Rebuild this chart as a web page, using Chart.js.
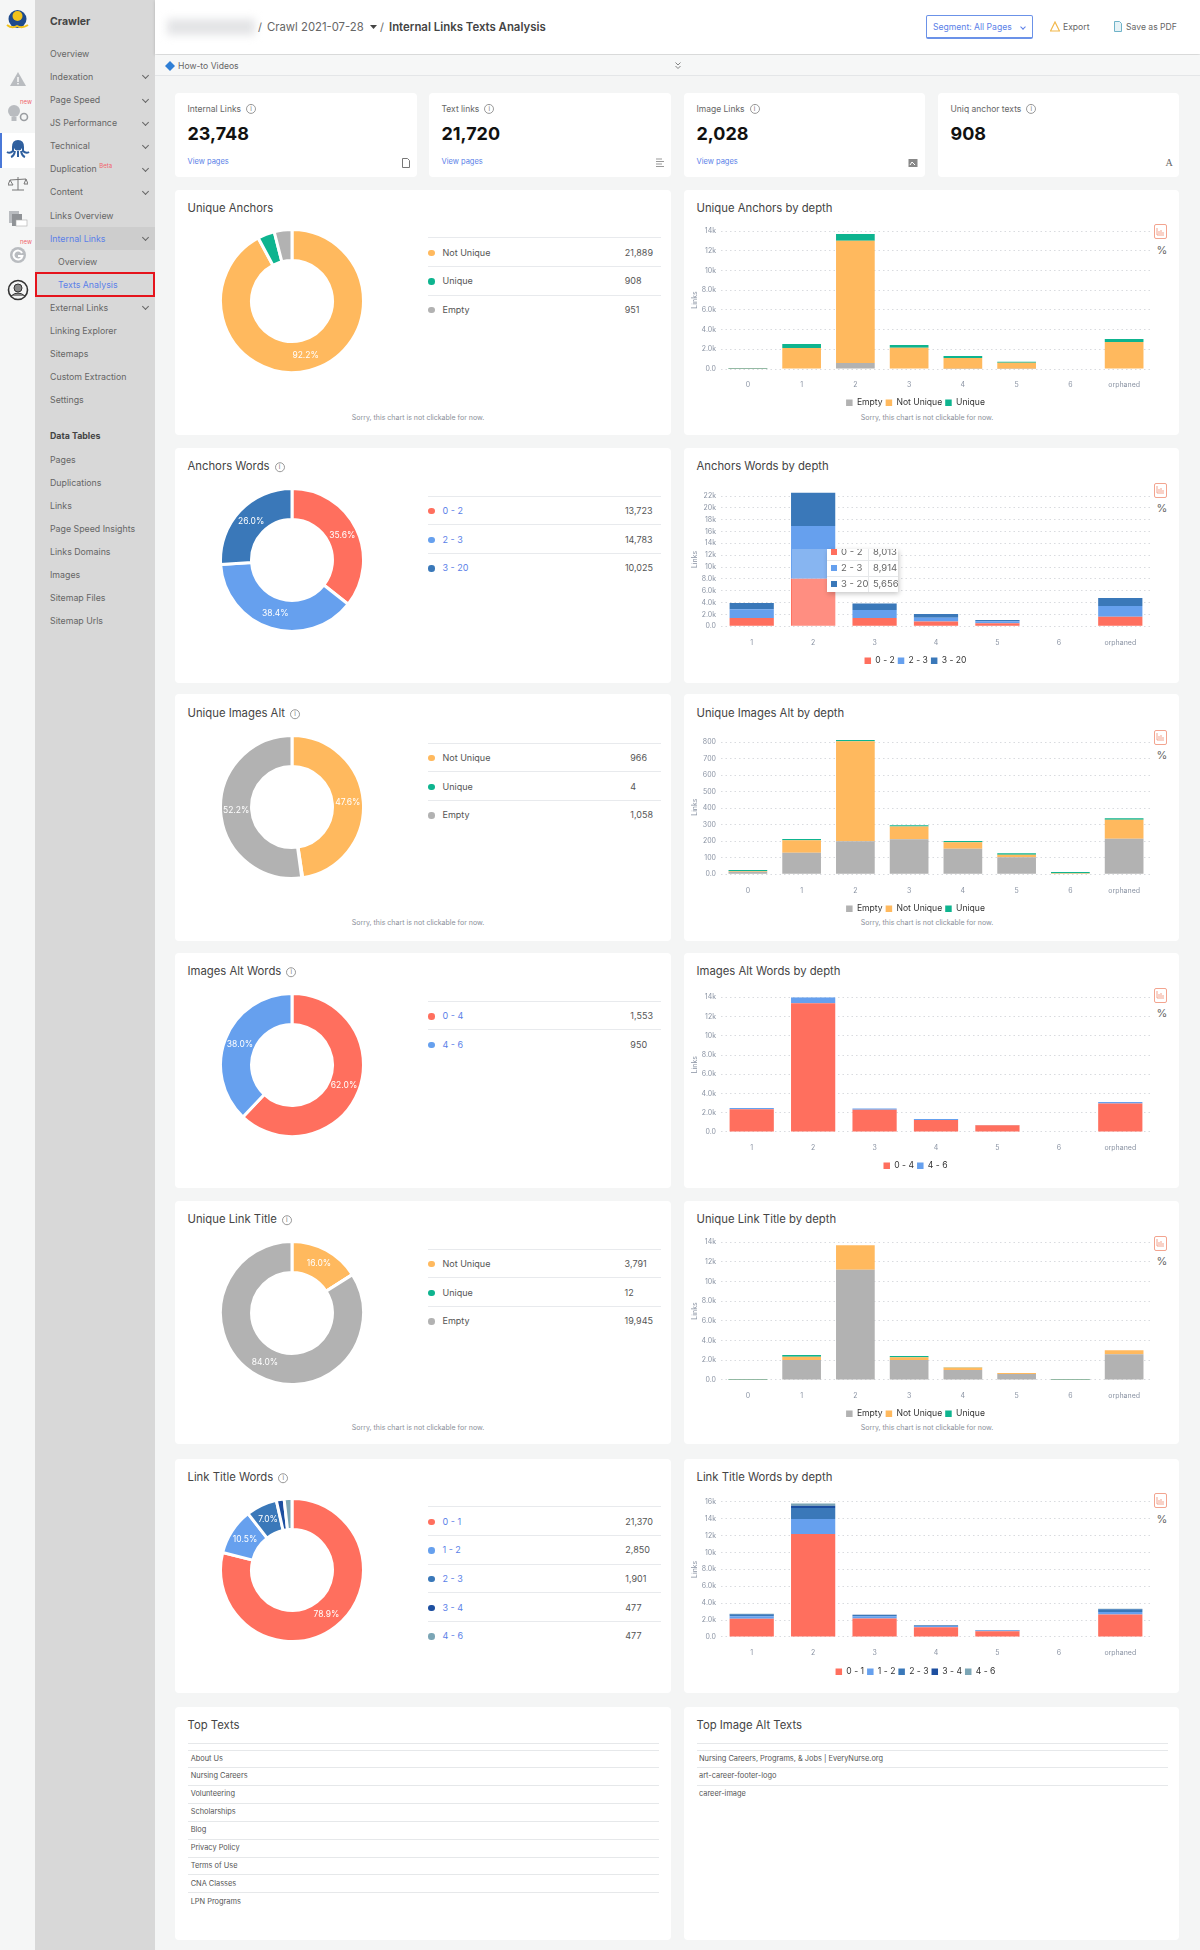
<!DOCTYPE html>
<html lang="en">
<head>
<meta charset="UTF-8">
<title>Internal Links Texts Analysis</title>
<script src="https://cdn.jsdelivr.net/npm/chart.js@4"></script>
<style>
    html, body { margin: 0; padding: 0; }
    body { width: 1200px; height: 1950px; position: relative; overflow: hidden; background: #f4f5f5; font-family: Inter, sans-serif; color: #555; }
    .box { position: absolute; box-sizing: border-box; }
    .card { background: #fff; border-radius: 4px; }
    .t { position: absolute; white-space: nowrap; transform: translateY(-50%); line-height: 1.2; }
    .nav { font-size: 8.8px; color: #666; }
    .blue { color: #5b7fe8; }
    .title { font-size: 11.3px; color: #444; }
    .info { display: inline-block; width: 8px; height: 8px; border: 1px solid #999; border-radius: 50%; font-size: 6.5px; line-height: 8px; text-align: center; color: #777; margin-left: 5px; vertical-align: 1px; }
    .sorry { font-size: 7px; color: #8a8f99; transform: translate(-50%, -50%); }
    .chev { position: absolute; width: 4px; height: 4px; border-right: 1px solid #666; border-bottom: 1px solid #666; transform: rotate(45deg); }
    canvas { position: absolute; }
    table.lg { position: absolute; border-collapse: collapse; font-size: 9px; color: #555; }
    table.lg td { height: 27.7px; border-top: 1px solid #e8eaed; padding: 0; white-space: nowrap; }
    table.lg .dot { display: inline-block; width: 6.5px; height: 6.5px; border-radius: 50%; margin: 0 8px 0 0; vertical-align: -0.5px; }
    table.lg td.v { width: 1px; padding-right: 8px; }
    table.lg td.n { padding-left: 0; }
    .svg { position: absolute; }
    .svg svg { display: block; }
</style>
</head>
<body>
<script>
    // chart data
    const depths8 = ['0', '1', '2', '3', '4', '5', '6', 'orphaned'];
    const depths7 = ['1', '2', '3', '4', '5', '6', 'orphaned'];
    const uniqueKinds = ['Empty', 'Not Unique', 'Unique'];
    const donutKinds = ['Not Unique', 'Unique', 'Empty'];

    const anchorsDonut = [21889, 908, 951];
    const anchorsEmpty = [5, 50, 610, 50, 30, 20, 0, 60];
    const anchorsNotUnique = [30, 2080, 12410, 2110, 1090, 620, 0, 2680];
    const anchorsUnique = [60, 410, 680, 270, 200, 100, 0, 300];

    const wordsKinds = ['0 - 2', '2 - 3', '3 - 20'];
    const wordsDonut = [13723, 14783, 10025];
    const words0to2 = [1410, 8013, 1410, 790, 500, 0, 1630];
    const words2to3 = [1460, 8914, 1350, 670, 350, 0, 1800];
    const words3to20 = [1070, 5656, 1070, 620, 220, 0, 1360];

    const imagesDonut = [966, 4, 1058];
    const imagesEmpty = [16, 130, 200, 212, 155, 103, 4, 216];
    const imagesNotUnique = [4, 77, 606, 77, 39, 16, 2, 115];
    const imagesUnique = [6, 7, 8, 8, 8, 8, 8, 8];

    const altKinds = ['0 - 4', '4 - 6'];
    const altDonut = [1553, 950];
    const alt0to4 = [2360, 13370, 2320, 1250, 710, 0, 2950];
    const alt4to6 = [130, 630, 110, 100, 20, 0, 170];

    const titleDonut = [3791, 12, 19945];
    const titleEmpty = [10, 2030, 11190, 2030, 1020, 610, 10, 2610];
    const titleNotUnique = [10, 340, 2470, 270, 260, 100, 10, 410];
    const titleUnique = [80, 170, 0, 140, 10, 0, 80, 0];

    const linkKinds = ['0 - 1', '1 - 2', '2 - 3', '3 - 4', '4 - 6'];
    const linkDonut = [21370, 2850, 1901, 477, 477];
    const link0to1 = [2160, 12180, 2200, 1140, 670, 0, 2670];
    const link1to2 = [300, 1770, 240, 150, 90, 0, 280];
    const link2to3 = [220, 1300, 150, 80, 50, 0, 330];
    const link3to4 = [50, 280, 30, 30, 20, 0, 40];
    const link4to6 = [20, 270, 10, 10, 0, 0, 20];

    const topTexts = ['About Us', 'Nursing Careers', 'Volunteering', 'Scholarships', 'Blog', 'Privacy Policy', 'Terms of Use', 'CNA Classes', 'LPN Programs'];
    const topAltTexts = ['Nursing Careers, Programs, & Jobs | EveryNurse.org', 'art-career-footer-logo', 'career-image'];

    const navTop = ['Overview', 'Indexation', 'Page Speed', 'JS Performance', 'Technical', 'Duplication', 'Content', 'Links Overview', 'Internal Links', 'Overview', 'Texts Analysis', 'External Links', 'Linking Explorer', 'Sitemaps', 'Custom Extraction', 'Settings'];
    const navChevrons = ['Indexation', 'Page Speed', 'JS Performance', 'Technical', 'Duplication', 'Content', 'Internal Links', 'External Links'];
    const navTables = ['Pages', 'Duplications', 'Links', 'Page Speed Insights', 'Links Domains', 'Images', 'Sitemap Files', 'Sitemap Urls'];

    const GOLD = '#ffb95e', TEAL = '#0eb48f', GREY = '#b2b2b2';
    const RED = '#ff6f5e', LIGHT = '#66a0ee', MID = '#3a78b9', DARK = '#1d4fa0', SLATE = '#7ba5b5';

    Chart.defaults.font.family = 'Inter, sans-serif';

    function box(x, y, w, h, css, cls) {
        const d = document.createElement('div');
        d.className = 'box ' + (cls || '');
        d.style.cssText = `left:${x}px;top:${y}px;width:${w}px;height:${h}px;` + (css || '');
        document.body.appendChild(d);
        return d;
    }

    function txt(x, y, str, cls, css) {
        const d = document.createElement('div');
        d.className = 't ' + (cls || '');
        d.style.cssText = `left:${x}px;top:${y}px;` + (css || '');
        d.innerHTML = str;
        document.body.appendChild(d);
        return d;
    }

    function svg(x, y, w, h, inner) {
        const d = document.createElement('div');
        d.className = 'svg';
        d.style.cssText = `left:${x}px;top:${y}px;width:${w}px;height:${h}px;`;
        d.innerHTML = `<svg width="${w}" height="${h}" viewBox="0 0 ${w} ${h}">${inner}</svg>`;
        document.body.appendChild(d);
    }

    function makeCanvas(x, y, w, h) {
        const c = document.createElement('canvas');
        c.width = w;
        c.height = h;
        c.style.cssText = `left:${x}px;top:${y}px;width:${w}px;height:${h}px;`;
        document.body.appendChild(c);
        return c;
    }

    const INFO = '<span class="info">i</span>';

    // white percent labels in the middle of each big slice
    const percentLabels = {
        id: 'percentLabels',
        afterDatasetsDraw(chart) {
            const values = chart.data.datasets[0].data;
            const total = values.reduce((a, b) => a + b, 0);
            const ctx = chart.ctx;
            chart.getDatasetMeta(0).data.forEach((arc, i) => {
                const share = values[i] / total;
                if (share < 0.05) return;
                const p = arc.getCenterPoint();
                ctx.save();
                ctx.fillStyle = '#fff';
                ctx.font = '8.5px Inter';
                ctx.textAlign = 'center';
                ctx.textBaseline = 'middle';
                ctx.fillText((share * 100).toFixed(1) + '%', p.x, p.y);
                ctx.restore();
            });
        }
    };

    function drawDonut(titleY, labels, values, colors, linked) {
        const cy = titleY + 93.7;
        new Chart(makeCanvas(292 - 73, cy - 73, 146, 146), {
            type: 'doughnut',
            data: { labels: labels, datasets: [{ data: values, backgroundColor: colors, borderColor: '#fff', borderWidth: 3 }] },
            options: {
                responsive: false,
                animation: false,
                cutout: '56.6%',
                plugins: { legend: { display: false }, tooltip: { enabled: false } }
            },
            plugins: [percentLabels]
        });

        const t = document.createElement('table');
        t.className = 'lg';
        t.style.cssText = `left:428px;top:${titleY + 29.5}px;width:233px;`;
        labels.forEach((name, i) => {
            const tr = t.insertRow();
            const a = tr.insertCell();
            a.className = 'n';
            a.innerHTML = `<span class="dot" style="background:${colors[i]}"></span><span class="${linked ? 'blue' : ''}">${name}</span>`;
            const b = tr.insertCell();
            b.className = 'v';
            b.textContent = values[i].toLocaleString('en-US');
        });
        document.body.appendChild(t);
    }

    function tickText(v) {
        if (v === 0) return '0.0';
        if (v < 1000) return String(v);
        if (v >= 10000) return (v / 1000) + 'k';
        return (v / 1000).toFixed(1) + 'k';
    }

    function drawBars(geo, labels, kinds, series, colors, topTick, step) {
        const stackMax = Math.max(...labels.map((_, i) => series.reduce((sum, s) => sum + s[i], 0)));
        const yMax = Math.max(stackMax, topTick);
        const pxPerUnit = (geo.zero - geo.tick) / topTick;
        const plotTop = geo.zero - yMax * pxPerUnit;
        const canvasTop = Math.round(plotTop) - 10;
        const canvasBottom = Math.round(geo.legend + 14.5);
        const legendH = 21.6;
        new Chart(makeCanvas(680, canvasTop, 472, canvasBottom - canvasTop), {
            type: 'bar',
            data: {
                labels: labels,
                datasets: kinds.map((name, i) => ({ label: name, data: series[i], backgroundColor: colors[i], borderWidth: 0 }))
            },
            options: {
                responsive: false,
                animation: false,
                layout: { padding: { top: plotTop - canvasTop, right: 1, left: 0, bottom: 0 } },
                plugins: {
                    tooltip: { enabled: false },
                    legend: {
                        position: 'bottom',
                        labels: { boxWidth: 6.5, boxHeight: 6.5, padding: 3, color: '#333', font: { size: 8.6 } }
                    }
                },
                scales: {
                    x: {
                        stacked: true,
                        grid: { display: false },
                        border: { display: false },
                        ticks: { color: '#8a93a3', font: { size: 7 }, padding: 4, maxRotation: 0, autoSkip: false },
                        afterFit: s => { s.height = canvasBottom - legendH - geo.zero; }
                    },
                    y: {
                        stacked: true,
                        min: 0,
                        max: yMax,
                        border: { display: false, dash: [1.5, 3] },
                        grid: { color: '#d9dbdf', drawTicks: false },
                        title: { display: true, text: 'Links', color: '#8a93a3', font: { size: 7 }, padding: { top: 11, bottom: 0 } },
                        ticks: { autoSkip: false, color: '#8a93a3', font: { size: 7 }, padding: 5, callback: tickText },
                        afterBuildTicks: s => {
                            const list = [];
                            for (let v = 0; v <= topTick; v += step) list.push({ value: v });
                            s.ticks = list;
                        },
                        afterFit: s => { s.width = 41; }
                    }
                }
            }
        });
    }

    function toggleIcons(titleY) {
        box(1154, titleY + 16.5, 13, 15, 'border:1px solid #f3a48f;border-radius:2px;');
        svg(1156, titleY + 19, 9, 10, '<path d="M1 1v7h7M3 7V4M5 7V3M7 7V5" stroke="#f3a48f" fill="none" stroke-width="1"/>');
        txt(1156.5, titleY + 43, '%', '', 'font-size:11px;color:#666;');
    }

    // page frame
    box(0, 0, 35, 1950, 'background:#f5f6f6;');
    box(35, 0, 120, 1950, 'background:#d8d8d8;');
    box(155, 0, 1045, 54, 'background:#fff;box-shadow:0 1px 3px rgba(0,0,0,.18);');
    box(155, 55, 1045, 21, 'background:#f6f7f7;border-bottom:1px solid #e4e6e8;');

    // icon rail
    box(0, 132.5, 35, 35, 'background:#fff;');
    box(0, 132.5, 1.5, 35, 'background:#4a78d8;');
    svg(5, 8, 25, 26, '<circle cx="12.5" cy="11" r="9" fill="#1e4a8c"/><circle cx="12.5" cy="8" r="5" fill="#f1c21b"/><path d="M2 17q5 4 10 1q5 3 11-1" stroke="#f1c21b" stroke-width="2" fill="none"/>');
    svg(9, 71, 18, 16, '<path d="M9 1L17 15H1Z" fill="#b9bcc0"/><rect x="8.3" y="6" width="1.4" height="5" fill="#fff"/><rect x="8.3" y="12" width="1.4" height="1.4" fill="#fff"/>');
    svg(7, 104, 22, 20, '<circle cx="7" cy="7" r="6" fill="#b9bcc0"/><rect x="4.500" y="13" width="5" height="4" fill="#b9bcc0"/><circle cx="17" cy="13" r="3.500" fill="none" stroke="#9a9da1" stroke-width="1.6"/>');
    txt(20, 102, 'new', '', 'font-size:6px;color:#f0636b;');
    svg(6, 139, 24, 21, '<path d="M12 2c-4 0-5 3-5 6v4q-3 3-6 1M12 2c4 0 5 3 5 6v4q3 3 6 1M9 12q-1 5-4 6M15 12q1 5 4 6M12 12v6" stroke="#2f5f9e" stroke-width="2" fill="none"/><circle cx="12" cy="7" r="4.500" fill="#2f5f9e"/>');
    svg(8, 176, 20, 16, '<path d="M10 1v13M4 14h12M2 4l16-1M2 4l-2 5h5zM18 3l-2 5h4z" stroke="#777" stroke-width="1" fill="none"/>');
    svg(8, 210, 20, 18, '<rect x="1" y="1" width="10" height="12" fill="#b9bcc0"/><rect x="4" y="4" width="10" height="12" fill="#8f9296"/><rect x="8" y="10" width="11" height="6" fill="#fff" stroke="#aaa" stroke-width=".6"/>');
    svg(8, 245, 20, 20, '<circle cx="10" cy="10" r="8" fill="#b9bcc0"/><path d="M14 8a4.500 4.500 0 1 0 .4 3H10" stroke="#fff" stroke-width="2" fill="none"/>');
    txt(20, 242, 'new', '', 'font-size:6px;color:#f0636b;');
    svg(7, 279, 22, 22, '<circle cx="11" cy="11" r="9.500" fill="none" stroke="#333" stroke-width="1.6"/><circle cx="11" cy="9" r="4" fill="#888" stroke="#333"/><path d="M4 17q7-6 14 0" fill="#888" stroke="#333"/>');

    // sidebar
    txt(50, 21.8, 'Crawler', '', 'font-size:10.5px;font-weight:700;color:#444;');
    box(35, 227, 120, 23, 'background:#cdcdcd;');
    navTop.forEach((name, i) => {
        const y = 53.8 + i * 23.1;
        const sub = (i === 9 || i === 10);
        const active = (i === 8 || i === 10);
        let label = name;
        if (name === 'Duplication') label += ' <sup style="color:#f0636b;font-size:6px;line-height:0;">Beta</sup>';
        txt(sub ? 58 : 50, y, label, 'nav' + (active ? ' blue' : ''));
        if (navChevrons.includes(name)) {
            const c = box(143, y - 3.5, 4, 4, '', 'chev');
            c.classList.remove('box');
        }
    });
    box(35, 271.5, 119.5, 25.5, 'border:2px solid #e5141c;');
    txt(50, 436, 'Data Tables', 'nav', 'font-weight:700;color:#444;');
    navTables.forEach((name, i) => txt(50, 459.5 + i * 23, name, 'nav'));

    // top bar
    box(167, 19, 88, 16, 'background:#e3e4e6;filter:blur(4px);');
    txt(258, 27.5, '/', '', 'font-size:11px;color:#666;');
    txt(267, 27.5, 'Crawl 2021-07-28', '', 'font-size:11.3px;color:#666;');
    svg(370, 25, 7, 4, '<path d="M0 0h7L3.500 4z" fill="#444"/>');
    txt(380, 27.5, '/', '', 'font-size:11px;color:#666;');
    txt(389, 27.5, 'Internal Links Texts Analysis', '', 'font-size:11.4px;font-weight:600;color:#444;');
    box(925.5, 15, 107, 24, 'background:#fff;border:1px solid #6b92e8;border-bottom-width:2px;border-radius:2px;');
    txt(933, 27, 'Segment: All Pages', 'blue', 'font-size:8.6px;');
    box(1021, 24.5, 4, 4, 'border-right:1px solid #5b7fe8;border-bottom:1px solid #5b7fe8;transform:rotate(45deg);');
    svg(1050, 21, 10, 11, '<path d="M5 1L9.500 10H.5Z" fill="none" stroke="#f2b84b" stroke-width="1.2"/>');
    txt(1063, 27, 'Export', '', 'font-size:8.6px;color:#666;');
    svg(1114, 21, 8, 11, '<path d="M.5.5h5l2 2v8h-7z" fill="#e6f2f6" stroke="#6fb3c8"/>');
    txt(1126, 27, 'Save as PDF', '', 'font-size:8.6px;color:#666;');

    svg(165, 61, 10, 10, '<path d="M5 0l5 5-5 5-5-5z" fill="#2f7fd6"/>');
    txt(178, 66, 'How-to Videos', '', 'font-size:8.6px;color:#666;');
    svg(675, 62, 6, 7, '<path d="M.5.5L3 3 5.500.5M.5 4L3 6.500 5.500 4" stroke="#666" fill="none" stroke-width=".8"/>');

    // metric cards
    const metricX = [175, 429, 684, 938];
    const metricW = [242, 242, 241, 241];
    const metricNames = ['Internal Links', 'Text links', 'Image Links', 'Uniq anchor texts'];
    const metricValues = ['23,748', '21,720', '2,028', '908'];
    metricX.forEach((x, i) => {
        box(x, 92.5, metricW[i], 84.5, '', 'card');
        txt(x + 12.5, 108.6, metricNames[i] + INFO, '', 'font-size:8.5px;color:#666;');
        txt(x + 12.5, 133.8, metricValues[i], '', 'font-size:18px;font-weight:700;color:#111;');
        if (i < 3) txt(x + 12.5, 161, 'View pages', 'blue', 'font-size:7.5px;');
    });
    svg(402, 158, 8, 10, '<path d="M.5.5h5l2 2v7h-7z" fill="none" stroke="#777"/>');
    svg(656, 158, 8, 10, '<path d="M0 1h6M0 3.500h8M0 6h6M0 8.500h8" stroke="#999"/>');
    svg(908, 158, 10, 10, '<rect x=".5" y="1" width="9" height="8" fill="#888"/><path d="M2 7l2-3 3 3" stroke="#fff" fill="none"/>');
    txt(1165.5, 163, 'A', '', 'font-size:10px;color:#666;font-family:\'Liberation Serif\',serif;');

    // chart rows: card tops/bottoms and where each plot sits
    const cardTop = [190, 448, 694, 953, 1201, 1459];
    const cardBottom = [435, 683, 941, 1188, 1444, 1693];
    const titleY = [207.7, 466, 713, 971.3, 1219, 1476.7];
    const plotTick = [231, 496, 742.3, 997.3, 1242, 1501.7];
    const plotZero = [369, 626.3, 874.3, 1132, 1380, 1637];
    const legendY = [402, 660, 908, 1165.7, 1413, 1671];
    const sorryY = [417.7, null, 923, null, 1428, null];

    cardTop.forEach((top, i) => {
        box(175, top, 496, cardBottom[i] - top, '', 'card');
        box(684, top, 495, cardBottom[i] - top, '', 'card');
    });

    const leftTitles = ['Unique Anchors', 'Anchors Words' + INFO, 'Unique Images Alt' + INFO, 'Images Alt Words' + INFO, 'Unique Link Title' + INFO, 'Link Title Words' + INFO];
    const rightTitles = ['Unique Anchors by depth', 'Anchors Words by depth', 'Unique Images Alt by depth', 'Images Alt Words by depth', 'Unique Link Title by depth', 'Link Title Words by depth'];
    titleY.forEach((y, i) => {
        txt(187.5, y + 0.8, leftTitles[i], 'title');
        txt(696.5, y + 0.8, rightTitles[i], 'title');
        toggleIcons(y);
        if (sorryY[i]) {
            txt(418, sorryY[i], 'Sorry, this chart is not clickable for now.', 'sorry');
            txt(927, sorryY[i], 'Sorry, this chart is not clickable for now.', 'sorry');
        }
    });

    const geo = i => ({ tick: plotTick[i], zero: plotZero[i], legend: legendY[i] });

    drawDonut(titleY[0], donutKinds, anchorsDonut, [GOLD, TEAL, GREY], false);
    drawDonut(titleY[1], wordsKinds, wordsDonut, [RED, LIGHT, MID], true);
    drawDonut(titleY[2], donutKinds, imagesDonut, [GOLD, TEAL, GREY], false);
    drawDonut(titleY[3], altKinds, altDonut, [RED, LIGHT], true);
    drawDonut(titleY[4], donutKinds, titleDonut, [GOLD, TEAL, GREY], false);
    drawDonut(titleY[5], linkKinds, linkDonut, [RED, LIGHT, MID, DARK, SLATE], true);

    drawBars(geo(0), depths8, uniqueKinds, [anchorsEmpty, anchorsNotUnique, anchorsUnique], [GREY, GOLD, TEAL], 14000, 2000);
    drawBars(geo(1), depths7, wordsKinds, [words0to2, words2to3, words3to20], [RED, LIGHT, MID], 22000, 2000);
    drawBars(geo(2), depths8, uniqueKinds, [imagesEmpty, imagesNotUnique, imagesUnique], [GREY, GOLD, TEAL], 800, 100);
    drawBars(geo(3), depths7, altKinds, [alt0to4, alt4to6], [RED, LIGHT], 14000, 2000);
    drawBars(geo(4), depths8, uniqueKinds, [titleEmpty, titleNotUnique, titleUnique], [GREY, GOLD, TEAL], 14000, 2000);
    drawBars(geo(5), depths7, linkKinds, [link0to1, link1to2, link2to3, link3to4, link4to6], [RED, LIGHT, MID, DARK, SLATE], 16000, 2000);

    // hover state on Anchors Words depth 2: lighter lower bar and a clipped tooltip
    box(792, 549, 43, 77.3, 'background:rgba(255,255,255,.22);');
    const tip = box(827, 549, 71, 43, 'background:#fff;box-shadow:1px 2px 5px rgba(0,0,0,.22);overflow:hidden;font-size:9.5px;color:#666;');
    const tipValues = [words0to2[1], words2to3[1], words3to20[1]];
    const tipColors = [RED, LIGHT, MID];
    wordsKinds.forEach((name, i) => {
        const y = 2.7 + i * 16.2;
        const sw = document.createElement('div');
        sw.style.cssText = `position:absolute;left:4px;top:${y - 3}px;width:6px;height:6px;background:${tipColors[i]};`;
        tip.appendChild(sw);
        const a = document.createElement('div');
        a.className = 't';
        a.style.cssText = `left:14px;top:${y}px;`;
        a.textContent = name;
        tip.appendChild(a);
        const b = document.createElement('div');
        b.className = 't';
        b.style.cssText = `left:46px;top:${y}px;`;
        b.textContent = tipValues[i].toLocaleString('en-US');
        tip.appendChild(b);
        if (i < 2) {
            const l = document.createElement('div');
            l.style.cssText = `position:absolute;left:0;right:0;top:${y + 8}px;height:1px;background:#e6e8ea;`;
            tip.appendChild(l);
        }
    });
    const divider = document.createElement('div');
    divider.style.cssText = 'position:absolute;left:41px;top:0;bottom:0;width:1px;background:#e6e8ea;';
    tip.appendChild(divider);

    // bottom tables
    box(175, 1707, 496, 233, '', 'card');
    box(684, 1707, 495, 233, '', 'card');
    txt(187.5, 1725.8, 'Top Texts', 'title');
    txt(696.5, 1725.8, 'Top Image Alt Texts', 'title');

    [[187.7, 471], [696.5, 471]].forEach(([x, w]) => {
        box(x, 1743, w, 1, 'background:#e6e8ea;');
        box(x, 1750, w, 1, 'background:#e6e8ea;');
    });
    const rowGap = 17.9;
    topTexts.forEach((name, i) => {
        txt(190.7, 1758.5 + i * rowGap, name, '', 'font-size:7.4px;color:#555;');
        if (i < 8) box(187.7, 1767 + i * rowGap, 471, 1, 'background:#e6e8ea;');
    });
    topAltTexts.forEach((name, i) => {
        txt(699, 1758.5 + i * rowGap, name, '', 'font-size:7.4px;color:#555;');
        if (i < 2) box(696.5, 1767 + i * rowGap, 471, 1, 'background:#e6e8ea;');
    });
</script>
</body>
</html>
